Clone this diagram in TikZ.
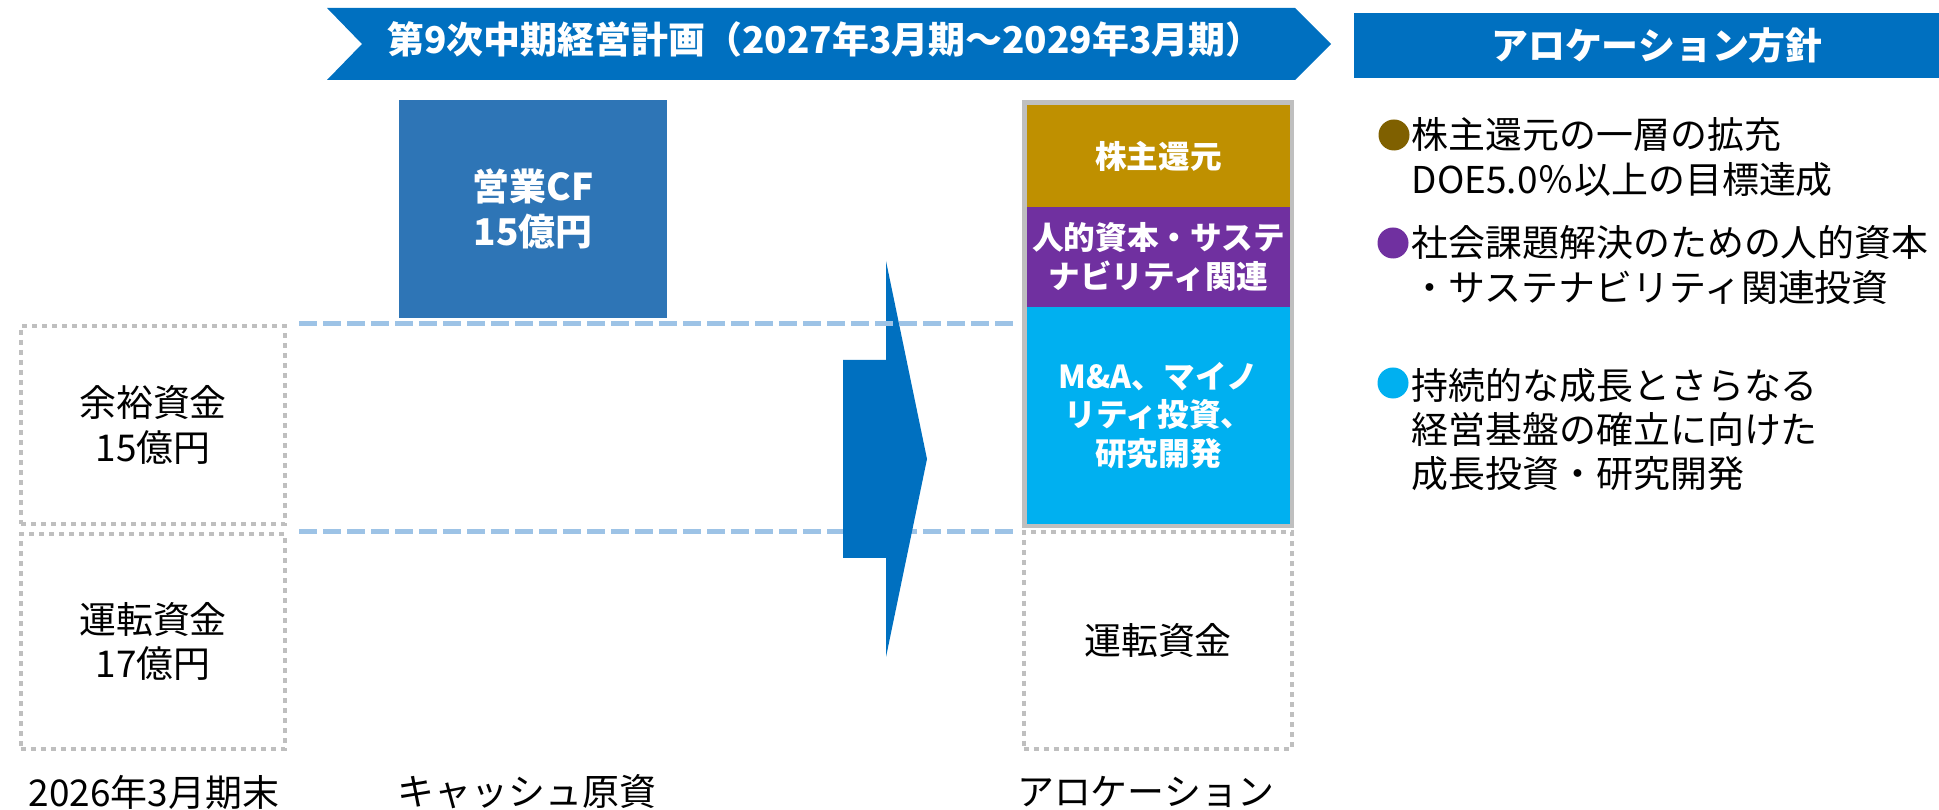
\documentclass[tikz,border=0pt]{standalone}
\usepackage{fontspec}
\setmainfont{Noto Sans CJK JP}
\definecolor{hdrblue}{HTML}{0070C0}
\definecolor{cfblue}{HTML}{2E75B6}
\definecolor{guideblue}{HTML}{9DC3E6}
\definecolor{dotgray}{HTML}{BFBFBF}
\definecolor{shrgold}{HTML}{BF9000}
\definecolor{hcpurple}{HTML}{7030A0}
\definecolor{grcyan}{HTML}{00B0F0}
\definecolor{shrbrown}{HTML}{7F6000}

\begin{document}
\begin{tikzpicture}[x=0.01cm, y=-0.01cm,
every node/.style={font=\fontsize{10.5}{12.6}\selectfont, align=center, inner sep=0pt},
hdr/.style={text=white, font=\bfseries\fontsize{10.5}{12.6}\selectfont},
cash/.style={draw=dotgray, line width=0.04cm, dash pattern=on 0.05cm off 0.05cm, minimum width=2.64cm},
band/.style={minimum width=2.63cm, text=white, font=\bfseries\fontsize{9}{11}\selectfont},
guide/.style={guideblue, line width=0.05cm, dash pattern=on 0.18cm off 0.06cm},
bulletdot/.style={circle, minimum size=0.31cm},
policy/.style={anchor=west, align=left}]
\useasboundingbox (0,0) rectangle (1939,810);

%Header
\fill[hdrblue] (327,8) -- (1295,8) -- (1331,44) -- (1295,80) -- (327,80) -- (362,44) -- cycle;
\node[hdr] (plan) at (825,39) {第9次中期経営計画（2027年3月期～2029年3月期）};
\node[hdr, fill=hdrblue, minimum width=6.06cm, minimum height=0.65cm] (policyhdr) at (1657,45.5) {アロケーション方針};

%Cash sources
\node[hdr, fill=cfblue, minimum width=2.68cm, minimum height=2.18cm] (opcf) at (533,209) {営業CF\\15億円};
\node[cash, minimum height=1.98cm] (surplus) at (153,425) {余裕資金\\15億円};
\node[cash, minimum height=2.15cm] (working) at (153,641.5) {運転資金\\17億円};

%Allocation
\node[draw=dotgray, line width=0.05cm, minimum width=2.67cm, minimum height=4.23cm] (alloc) at (1158,314) {};
\node[band, fill=shrgold, minimum height=1.02cm] (shr) at (1158.5,156) {株主還元};
\node[band, fill=hcpurple, minimum height=1.00cm] (hc) at (1158.5,257) {人的資本・サステ\\ナビリティ関連};
\node[band, fill=grcyan, minimum height=2.17cm] (mna) at (1158.5,415.5) {M\&A、マイノ\\リティ投資、\\研究開発};
\node[cash, minimum width=2.68cm, minimum height=2.16cm] (workalloc) at (1158,640.5) {運転資金};

%Guides and arrow
\draw[guide] ([xshift=0.12cm]working.north east) -- ([xshift=-0.07cm]working.north east -| alloc.west);
\fill[hdrblue] (843,360) -- (886,360) -- (886,261) -- (927,459) -- (886,657) -- (886,558) -- (843,558) -- cycle;
\draw[guide] ([xshift=0.12cm]surplus.north east) -- ([xshift=-0.07cm]surplus.north east -| alloc.west);

%Labels
\node (lbl1) at (154,792) {2026年3月期末};
\node (lbl2) at (527,792) {キャッシュ原資};
\node (lbl3) at (1146,792) {アロケーション};

%Policy
\node[bulletdot, fill=shrbrown] (b1) at (1394,135) {};
\node[policy] (p1) at (1411,157) {株主還元の一層の拡充\\DOE5.0％以上の目標達成};
\node[bulletdot, fill=hcpurple] (b2) at (1393,243) {};
\node[policy] (p2) at (1411,265) {社会課題解決のための人的資本\\・サステナビリティ関連投資};
\node[bulletdot, fill=grcyan] (b3) at (1393,383) {};
\node[policy] (p3) at (1411,429.5) {持続的な成長とさらなる\\経営基盤の確立に向けた\\成長投資・研究開発};
\end{tikzpicture}
\end{document}
